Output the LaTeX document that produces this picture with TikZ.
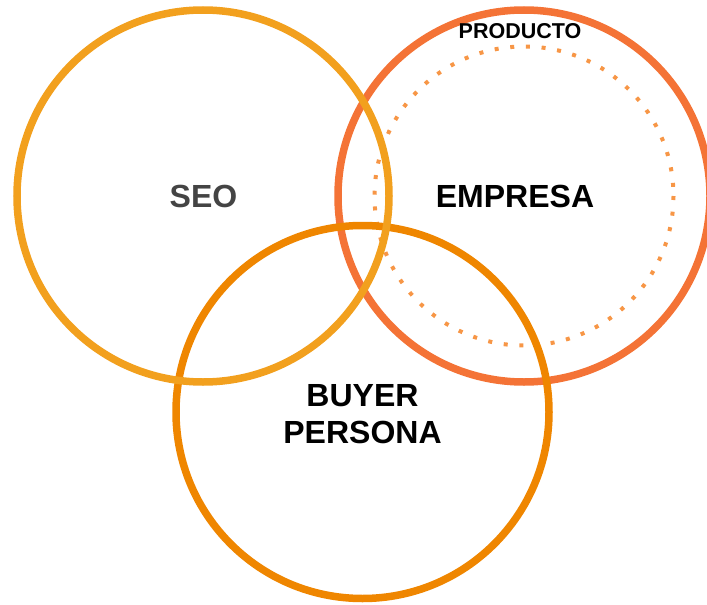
\documentclass[tikz,border=0pt]{standalone}
\usepackage{fontspec}
\setmainfont{Liberation Sans}
\definecolor{seoc}{RGB}{242,160,30}
\definecolor{empc}{RGB}{244,115,54}
\definecolor{buyc}{RGB}{239,134,0}
\definecolor{dotc}{RGB}{247,150,70}
\definecolor{seotext}{RGB}{68,68,68}
\begin{document}
\begin{tikzpicture}[x=1pt,y=-1pt,
  ring/.style={line width=7.5pt},
  big/.style={font=\fontsize{32}{37}\selectfont\bfseries, anchor=base, inner sep=0pt},
  small/.style={font=\fontsize{21.5}{25}\selectfont\bfseries, anchor=base, inner sep=0pt}]
\useasboundingbox (0,0) rectangle (707,605);
\clip (0,0) rectangle (707,605);
\coordinate (cseo) at (203,196);
\coordinate (cemp) at (524,196);
\coordinate (cbuy) at (362.5,412);
\draw[dotc, line width=4pt, dash pattern=on 4pt off 11.7pt] (cemp) circle[radius=149.5];
\draw[ring, empc] (cemp) circle[radius=186];
\draw[ring, buyc] (cbuy) circle[radius=186.5];
\draw[ring, seoc] (cseo) circle[radius=186];
\node[big, text=seotext] (seo) at (203.5,207) {SEO};
\node[big] (emp) at (515,207) {EMPRESA};
\node[small] (prod) at (520,38) {PRODUCTO};
\node[big] (buyer) at (362.5,406) {BUYER};
\node[big] (persona) at (362.5,443) {PERSONA};
\end{tikzpicture}
\end{document}
